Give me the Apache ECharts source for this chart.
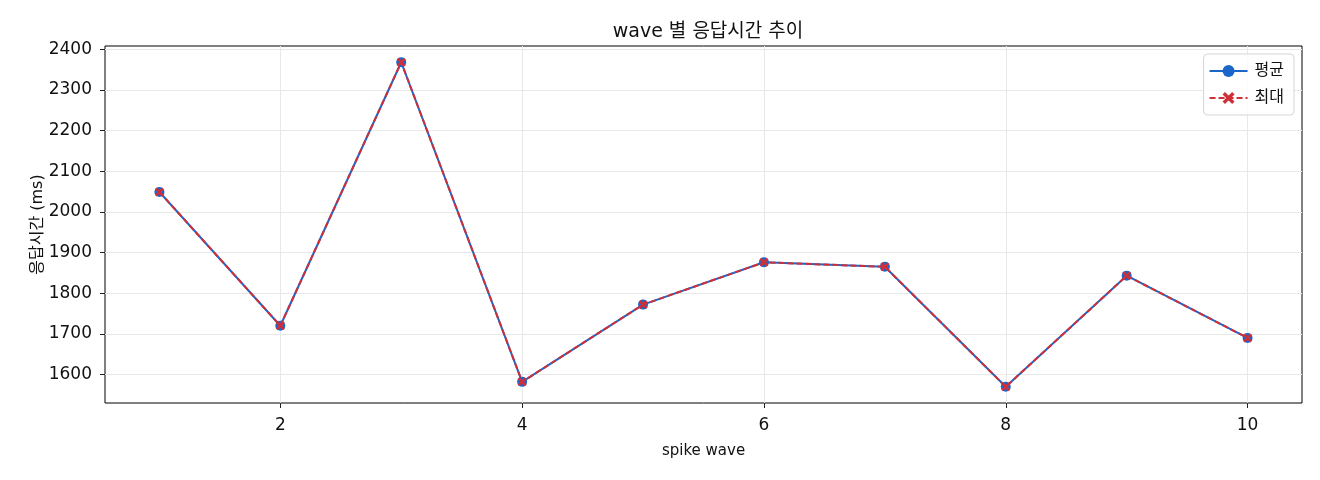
<!DOCTYPE html>
<html>
<head>
<meta charset="utf-8">
<script src="https://cdn.jsdelivr.net/npm/echarts@6/dist/echarts.min.js"></script>
<style>
html, body { margin: 0; padding: 0; background: #fff; }
#main { width: 1320px; height: 480px; }
</style>
</head>
<body>
<div id="main"></div>
<script>
// wave 번호
var waves = [1, 2, 3, 4, 5, 6, 7, 8, 9, 10];
// 평균 / 최대 응답시간 (ms)
var avgMs = [2049, 1720, 2368, 1582, 1772, 1876, 1865, 1570, 1843, 1690];
var maxMs = [2049, 1720, 2368, 1582, 1772, 1876, 1865, 1570, 1843, 1690];
// 눈금
var xTicks = [2, 4, 6, 8, 10];
var yTicks = [1600, 1700, 1800, 1900, 2000, 2100, 2200, 2300, 2400];

var font = '"DejaVu Sans", "Noto Sans CJK KR", sans-serif';
var blue = '#1b67c9';
var red = '#d12f38';
var xMark = 'path://M2,0L5,3L8,0L10,2L7,5L10,8L8,10L5,7L2,10L0,8L3,5L0,2Z';

function pairs(xs, ys) {
    var out = [];
    for (var i = 0; i < xs.length; i++) {
        out.push([xs[i], ys[i]]);
    }
    return out;
}

var chart = echarts.init(document.getElementById('main'));
var option = {
    backgroundColor: '#fff',
    animation: false,
    textStyle: { fontFamily: font },
    title: {
        text: 'wave 별 응답시간 추이',
        left: 703,
        textAlign: 'center',
        top: 18,
        textStyle: { fontSize: 19, fontWeight: 'normal', color: '#111', fontFamily: font }
    },
    legend: {
        orient: 'vertical',
        right: 26,
        top: 54,
        padding: [9, 10, 9, 5],
        itemWidth: 38,
        itemHeight: 15,
        itemGap: 11,
        borderColor: '#d6d6d6',
        borderWidth: 1,
        borderRadius: 4,
        backgroundColor: 'rgba(255,255,255,0.8)',
        textStyle: { fontSize: 16, color: '#111', fontFamily: font, padding: [0, 0, 0, 2] },
        data: ['평균', '최대']
    },
    grid: {
        left: 105,
        right: 18,
        top: 46,
        bottom: 77,
        show: true,
        borderColor: '#000',
        borderWidth: 1,
        backgroundColor: 'transparent'
    },
    xAxis: {
        type: 'value',
        min: 0.55,
        max: 10.45,
        name: 'spike wave',
        nameLocation: 'middle',
        nameGap: 41,
        nameMoveOverlap: false,
        nameTextStyle: { fontSize: 15, color: '#111' },
        axisLine: { show: false },
        axisTick: { show: true, length: 5, lineStyle: { color: '#222' }, customValues: xTicks },
        axisLabel: { fontSize: 17, color: '#111', margin: 14, customValues: xTicks },
        splitLine: { show: true, lineStyle: { color: '#e8e8e8', width: 1 } }
    },
    yAxis: {
        type: 'value',
        min: 1530,
        max: 2408,
        name: '응답시간 (ms)',
        nameLocation: 'middle',
        nameGap: 59,
        nameMoveOverlap: false,
        nameTextStyle: { fontSize: 16, color: '#111' },
        axisLine: { show: false },
        axisTick: { show: true, length: 5, lineStyle: { color: '#222' }, customValues: yTicks },
        axisLabel: {
            fontSize: 17,
            color: '#111',
            margin: 13,
            customValues: yTicks,
            formatter: function(v) { return String(v); }
        },
        splitLine: { show: true, lineStyle: { color: '#e8e8e8', width: 1 } }
    },
    series: [
        {
            name: '평균',
            type: 'line',
            data: pairs(waves, avgMs),
            symbol: 'circle',
            symbolSize: 10,
            itemStyle: { color: blue },
            lineStyle: { color: blue, width: 2 },
            z: 2
        },
        {
            name: '최대',
            type: 'line',
            data: pairs(waves, maxMs),
            symbol: xMark,
            symbolSize: 9,
            itemStyle: { color: red },
            lineStyle: { color: red, width: 2, type: [6, 3] },
            z: 3
        }
    ]
};
chart.setOption(option);
</script>
</body>
</html>
